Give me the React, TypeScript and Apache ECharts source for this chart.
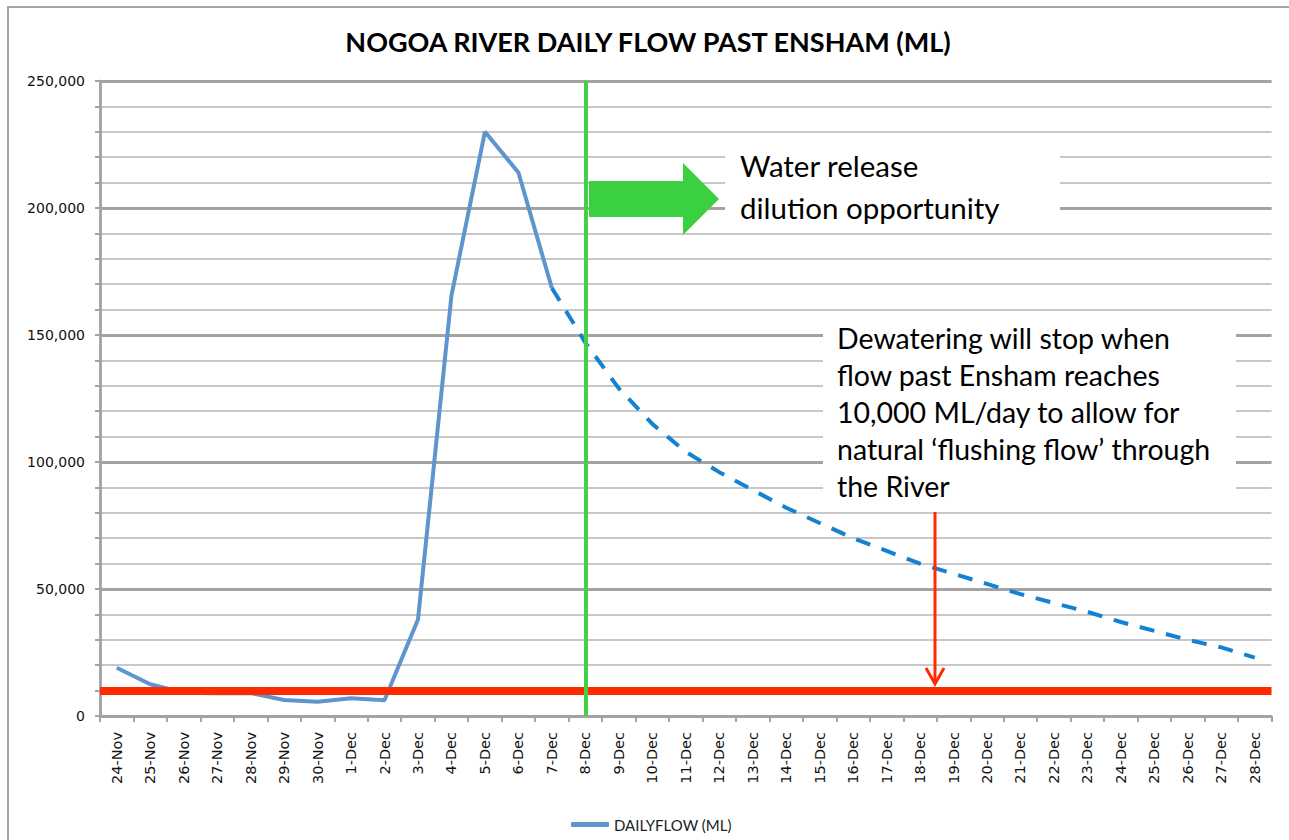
import React, { useEffect, useRef } from "react";
import * as echarts from "echarts";

const categories = [
  "24-Nov", "25-Nov", "26-Nov", "27-Nov", "28-Nov", "29-Nov", "30-Nov",
  "1-Dec", "2-Dec", "3-Dec", "4-Dec", "5-Dec", "6-Dec", "7-Dec", "8-Dec",
  "9-Dec", "10-Dec", "11-Dec", "12-Dec", "13-Dec", "14-Dec", "15-Dec",
  "16-Dec", "17-Dec", "18-Dec", "19-Dec", "20-Dec", "21-Dec", "22-Dec",
  "23-Dec", "24-Dec", "25-Dec", "26-Dec", "27-Dec", "28-Dec",
];

// Observed daily flow, 24-Nov .. 7-Dec (ML)
const observedFlow = [
  19000, 12500, 9200, 9000, 9000, 6300, 5600, 7000, 6200, 38000, 165500,
  230000, 214000, 168500,
];

// Forecast recession, 7-Dec .. 28-Dec (ML)
const forecastFlow = [
  168500, 147000, 129000, 115000, 104000, 96000, 89000, 82000, 76000, 70000,
  65000, 60000, 56000, 52000, 48000, 44500, 41000, 37000, 33500, 30000, 27000,
  23000,
];

const thresholdFlow = 10000;
const releaseDate = "8-Dec";

const yMin = 0;
const yMax = 250000;
const minorStep = 10000;
const majorStep = 50000;

const seriesName = "DAILYFLOW (ML)";
const title = "NOGOA RIVER DAILY FLOW PAST ENSHAM (ML)";
const note1 = "Water release\ndilution opportunity";
const note2 =
  "Dewatering will stop when\nflow past Ensham reaches\n10,000 ML/day to allow for\nnatural \u2018flushing flow\u2019 through\nthe River";

export default function App() {
  const ref = useRef<HTMLDivElement>(null);

  useEffect(() => {
    if (!ref.current) return;
    const chart = echarts.init(ref.current, null, { renderer: "svg" });

    const n = categories.length;
    const solidData = categories.map((_, i) =>
      i < observedFlow.length ? observedFlow[i] : "-"
    );
    const startF = n - forecastFlow.length;
    const dashedData = categories.map((_, i) =>
      i >= startF ? forecastFlow[i - startF] : "-"
    );

    const axisGrey = "#a3a3a3";
    const labelFont = "DejaVu Sans";

    chart.setOption({
      animation: false,
      backgroundColor: "#ffffff",
      title: {
        text: title,
        left: 648,
        top: 28,
        textAlign: "center",
        padding: 0,
        textStyle: {
          fontFamily: "Lato",
          fontWeight: "bold",
          fontSize: 27,
          color: "#000",
        },
      },
      legend: {
        data: [seriesName],
        left: 566,
        top: 812,
        icon: "roundRect",
        itemWidth: 38,
        itemHeight: 5,
        textStyle: { fontFamily: "Lato", fontSize: 15, color: "#222" },
      },
      grid: { left: 100, right: 17.5, top: 81, bottom: 124, containLabel: false },
      xAxis: {
        type: "category",
        data: categories,
        boundaryGap: true,
        axisLine: { lineStyle: { color: axisGrey, width: 2.5 } },
        axisTick: { show: true, length: 6, lineStyle: { color: axisGrey, width: 2 } },
        axisLabel: {
          rotate: 90,
          interval: 0,
          margin: 16,
          fontFamily: labelFont,
          fontSize: 14.5,
          color: "#111",
        },
        splitLine: { show: false },
      },
      yAxis: [
        {
          type: "value",
          min: yMin,
          max: yMax,
          interval: minorStep,
          axisLine: { show: true, lineStyle: { color: axisGrey, width: 2.5 } },
          axisTick: { show: true, length: 5, lineStyle: { color: axisGrey, width: 2 } },
          axisLabel: { show: false },
          splitLine: { show: true, lineStyle: { color: "#c8c8c8", width: 2 } },
        },
        {
          type: "value",
          min: yMin,
          max: yMax,
          interval: majorStep,
          position: "left",
          axisLine: { show: true, lineStyle: { color: axisGrey, width: 2.5 } },
          axisTick: { show: true, length: 5, lineStyle: { color: axisGrey, width: 2 } },
          axisLabel: {
            margin: 15,
            fontFamily: labelFont,
            fontSize: 14,
            color: "#111",
            formatter: (v: number) => v.toLocaleString("en-US"),
          },
          splitLine: { show: true, lineStyle: { color: axisGrey, width: 3 } },
        },
      ],
      series: [
        {
          name: seriesName,
          type: "line",
          data: solidData,
          yAxisIndex: 0,
          showSymbol: false,
          symbol: "none",
          lineStyle: { color: "#5e95cc", width: 4 },
          itemStyle: { color: "#5e95cc" },
          z: 3,
        },
        {
          name: "Forecast",
          type: "line",
          data: dashedData,
          yAxisIndex: 0,
          showSymbol: false,
          symbol: "none",
          lineStyle: { color: "#1482d2", width: 4, type: [15, 12], cap: "butt" },
          itemStyle: { color: "#1482d2" },
          z: 3,
        },
        {
          name: "markers",
          type: "line",
          data: [],
          yAxisIndex: 0,
          z: 5,
          markLine: {
            silent: true,
            symbol: "none",
            label: { show: false },
            data: [
              {
                yAxis: thresholdFlow,
                lineStyle: { color: "#ff2a00", width: 8, type: "solid" },
              },
              {
                xAxis: releaseDate,
                lineStyle: { color: "#44d046", width: 4, type: "solid" },
              },
            ],
          },
        },
      ],
      graphic: [
        {
          type: "rect",
          shape: { x: 8, y: 7, width: 1400, height: 1000 },
          style: { fill: "none", stroke: "#a6a6a6", lineWidth: 2 },
          z: 0,
          silent: true,
        },
        {
          type: "polygon",
          shape: {
            points: [
              [589, 181], [683, 181], [683, 163], [719, 199],
              [683, 235], [683, 217], [589, 217],
            ],
          },
          style: { fill: "#3bd03f" },
          z: 10,
        },
        {
          type: "rect",
          shape: { x: 725, y: 146, width: 335, height: 80 },
          style: { fill: "#ffffff" },
          z: 10,
        },
        {
          type: "text",
          x: 740,
          y: 144,
          style: {
            text: note1,
            fontFamily: "Lato",
            fontSize: 29.5,
            lineHeight: 42,
            fill: "#000",
            verticalAlign: "top",
          },
          z: 11,
        },
        {
          type: "rect",
          shape: { x: 823, y: 311, width: 413, height: 194 },
          style: { fill: "#ffffff" },
          z: 10,
        },
        {
          type: "text",
          x: 837,
          y: 319,
          style: {
            text: note2,
            fontFamily: "Lato",
            fontSize: 28.5,
            lineHeight: 37,
            fill: "#000",
            verticalAlign: "top",
          },
          z: 11,
        },
        {
          type: "line",
          shape: { x1: 935, y1: 512, x2: 935, y2: 683 },
          style: { stroke: "#ff2a00", lineWidth: 3 },
          z: 12,
        },
        {
          type: "polyline",
          shape: { points: [[926, 668], [935, 684], [944, 668]] },
          style: { stroke: "#ff2a00", lineWidth: 3, fill: "none" },
          z: 12,
        },
      ],
    });

    return () => chart.dispose();
  }, []);

  return (
    <div
      ref={ref}
      style={{ position: "absolute", left: 0, top: 0, width: 1289, height: 840 }}
    />
  );
}
